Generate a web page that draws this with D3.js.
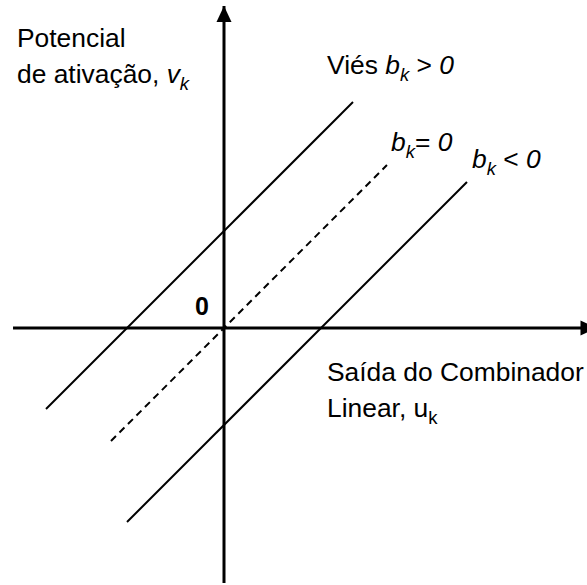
<!DOCTYPE html>
<html>
<head>
<meta charset="utf-8">
<script src="https://cdn.jsdelivr.net/npm/d3@7"></script>
<style>
  html, body { margin: 0; padding: 0; background: #fff; }
  svg { display: block; font-family: Arial, "Liberation Sans", sans-serif; }
</style>
</head>
<body>
<div id="chart"></div>
<script>
// biases of the three lines v = u + b
const biases = [1, 0, -1];
const lineStyles = ['solid', 'dashed', 'solid'];
// u range drawn for each line
const uStart = [-1.835, -1.165, -1.0];
const uEnd = [1.33, 1.68, 2.505];
// axis extents (data units)
const uAxis = [-2.175, 3.84];
const vAxis = [-2.63, 3.32];

const width = 587;
const height = 585;
const fontSize = 26.4;

const svg = d3.select('#chart').append('svg')
  .attr('width', width)
  .attr('height', height);

// 1 unit of u / v = 97px, origin at (224, 328)
const x = d3.scaleLinear().domain([-1, 1]).range([127, 321]);
const y = d3.scaleLinear().domain([-1, 1]).range([425, 231]);

// arrow head marker
svg.append('defs').append('marker')
  .attr('id', 'arrow')
  .attr('markerUnits', 'userSpaceOnUse')
  .attr('viewBox', '0 0 16 16')
  .attr('refX', 16)
  .attr('refY', 8)
  .attr('markerWidth', 16)
  .attr('markerHeight', 16)
  .attr('orient', 'auto')
  .append('path')
  .attr('d', 'M0,0.5 L16,8 L0,15.5 Z')
  .attr('fill', '#000');

// the three lines
const lines = biases.map((b, i) => ({
  b,
  style: lineStyles[i],
  pts: [[uStart[i], uStart[i] + b], [uEnd[i], uEnd[i] + b]],
}));

const line = d3.line().x(d => x(d[0])).y(d => y(d[1]));

svg.selectAll('path.bias')
  .data(lines)
  .join('path')
  .attr('class', 'bias')
  .attr('d', d => line(d.pts))
  .attr('fill', 'none')
  .attr('stroke', '#000')
  .attr('stroke-width', 2)
  .attr('stroke-dasharray', d => (d.style === 'dashed' ? '7,5' : null));

// axes
svg.append('line')
  .attr('x1', x(uAxis[0])).attr('x2', x(uAxis[1]))
  .attr('y1', y(0)).attr('y2', y(0))
  .attr('stroke', '#000')
  .attr('stroke-width', 3)
  .attr('marker-end', 'url(#arrow)');

svg.append('line')
  .attr('x1', x(0)).attr('x2', x(0))
  .attr('y1', y(vAxis[0])).attr('y2', y(vAxis[1]))
  .attr('stroke', '#000')
  .attr('stroke-width', 3)
  .attr('marker-end', 'url(#arrow)');

// text with italic parts and subscripts
function label(px, py, parts, size) {
  const t = svg.append('text')
    .attr('x', px)
    .attr('y', py)
    .attr('font-size', size)
    .attr('fill', '#000');
  let down = 0;
  parts.forEach(([txt, kind]) => {
    const s = t.append('tspan').text(txt);
    const sub = kind === 'sub' || kind === 'subn';
    const shift = sub ? 7 : 0;
    s.attr('dy', shift - down);
    down = shift;
    if (kind === 'i' || kind === 'sub') s.attr('font-style', 'italic');
    if (sub) s.attr('font-size', size * 0.7);
  });
  return t;
}

label(17, 47, [['Potencial', 'n']], fontSize);
label(17, 83, [['de ativação, ', 'n'], ['v', 'i'], ['k', 'sub']], fontSize);
label(327, 74, [['Viés ', 'n'], ['b', 'i'], ['k', 'sub'], [' > ', 'n'], ['0', 'i']], fontSize);
label(391, 151, [['b', 'i'], ['k', 'sub'], ['=', 'n'], [' 0', 'i']], fontSize);
label(472, 168, [['b', 'i'], ['k', 'sub'], [' < ', 'n'], ['0', 'i']], fontSize);
label(327, 381, [['Saída do Combinador', 'n']], fontSize);
label(327, 417, [['Linear, u', 'n'], ['k', 'subn']], fontSize);

svg.append('text')
  .attr('x', x(0) - 29)
  .attr('y', y(0) - 13)
  .attr('font-size', 25)
  .attr('font-weight', 'bold')
  .text('0');
</script>
</body>
</html>
